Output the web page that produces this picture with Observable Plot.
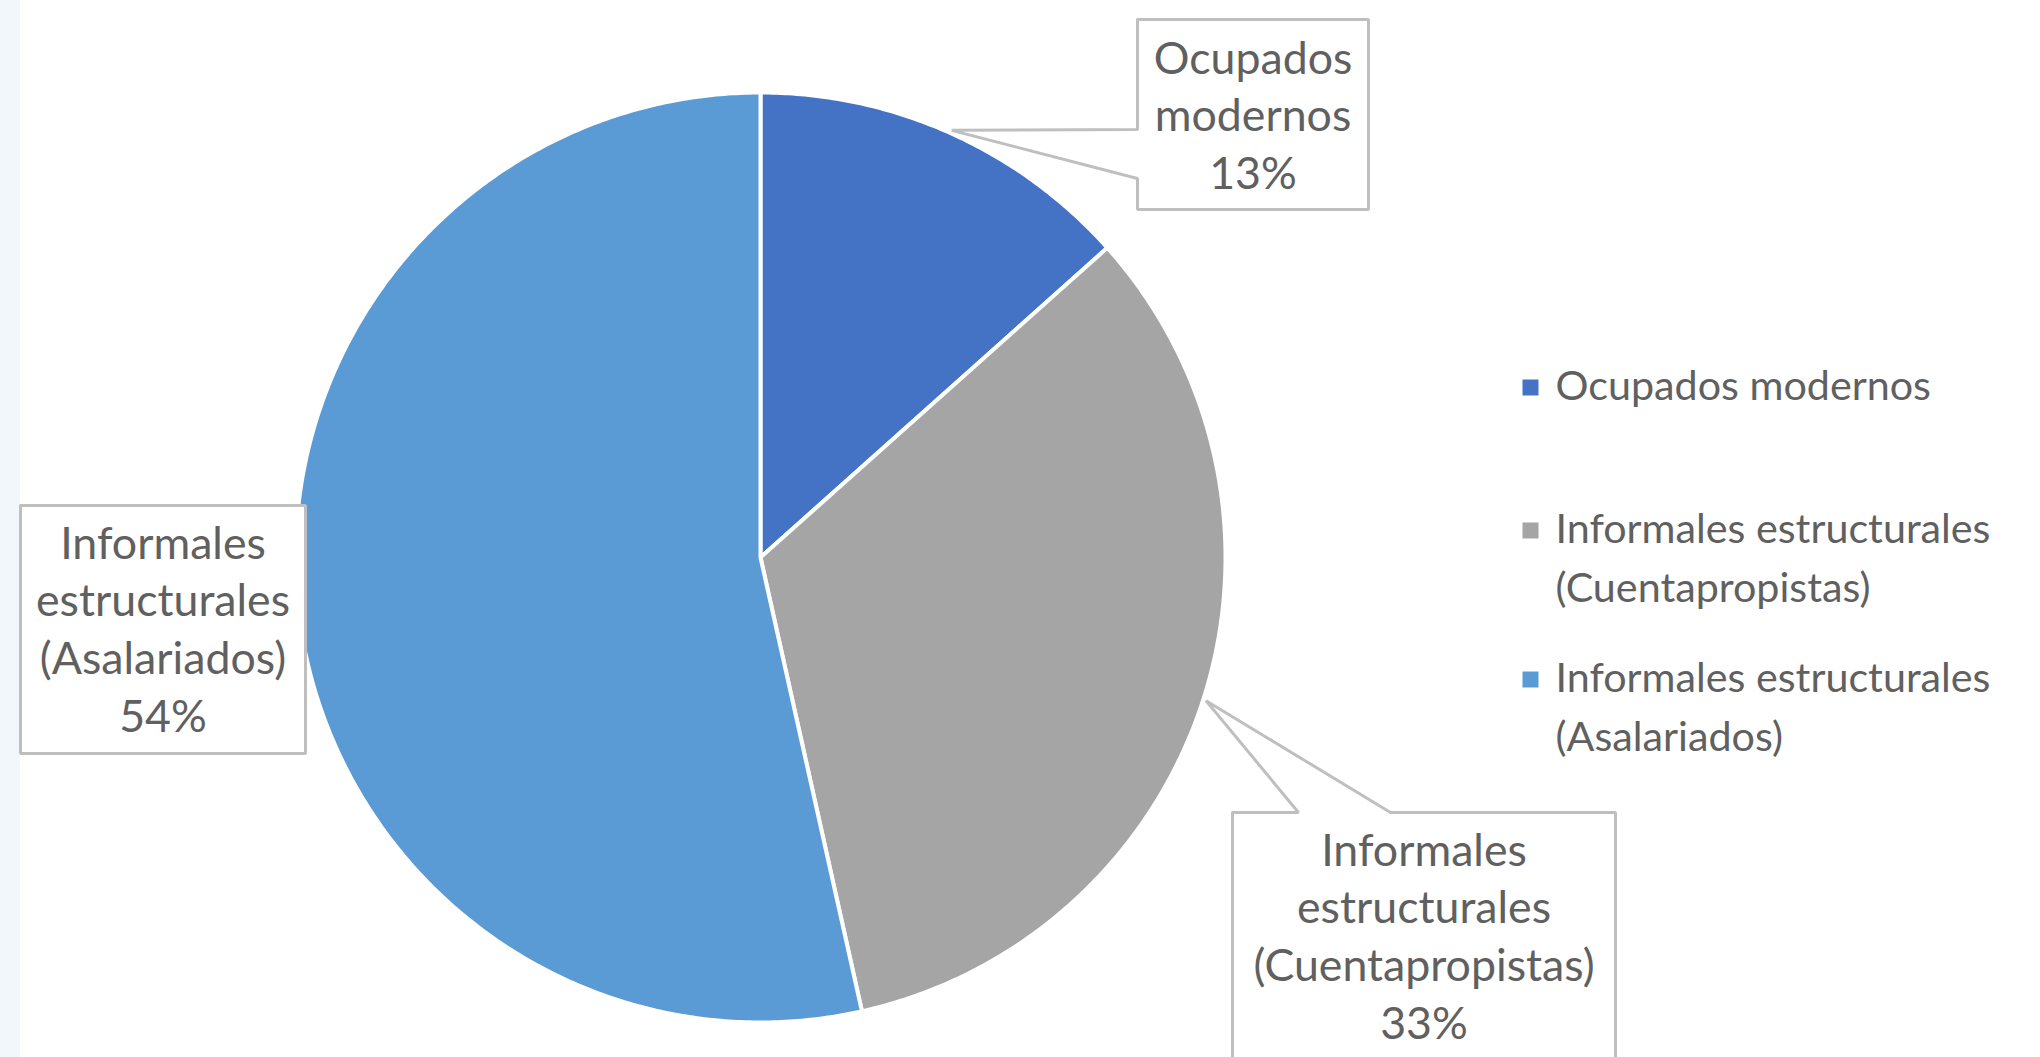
<!DOCTYPE html>
<html>
<head>
<meta charset="utf-8">
<script src="https://cdn.jsdelivr.net/npm/d3@7"></script>
<script src="https://cdn.jsdelivr.net/npm/@observablehq/plot@0.6"></script>
<style>
  html, body { margin: 0; padding: 0; background: #ffffff; }
  #chart { position: relative; width: 2040px; height: 1057px; overflow: hidden; }
  #strip { position: absolute; left: 0; top: 0; width: 20px; height: 1057px; background: #f1f7fa; }
  #chart svg { position: absolute; left: 0; top: 0; }
</style>
</head>
<body>
<div id="chart"><div id="strip"></div></div>
<script>
// ---------------- DATA ----------------
const categories = [
  "Ocupados modernos",
  "Informales estructurales (Cuentapropistas)",
  "Informales estructurales (Asalariados)"
];
const values = [13.4, 33.1, 53.5];
const labelLines = [
  ["Ocupados", "modernos"],
  ["Informales", "estructurales", "(Cuentapropistas)"],
  ["Informales", "estructurales", "(Asalariados)"]
];
const legendLines = [
  ["Ocupados modernos"],
  ["Informales estructurales", "(Cuentapropistas)"],
  ["Informales estructurales", "(Asalariados)"]
];
const colors = ["#4472C4", "#A5A5A5", "#5B9BD5"];

// ---------------- LAYOUT ----------------
const W = 2040, H = 1057;
const pie = {cx: 760, cy: 557, r: 465, sep: 4};
const font = "Lato";
const textColor = "#606060";
const boxStroke = "#BFBFBF";
// callout boxes (per category index)
const boxes = [
  {x1: 1137, y1: 19, x2: 1368, y2: 209, notch: {side: "left", a: 129, b: 178}, baseline: 73},
  {x1: 1232, y1: 812, x2: 1615, y2: 1080, notch: {side: "top", a: 1298, b: 1390}, baseline: 865},
  {x1: 20, y1: 505, x2: 305, y2: 753, notch: null, baseline: 558}
];
const labelLineStep = 57.8;
const legendLayout = {squareX: 1530, textX: 1555, baselines: [400, 543, 692], lineStep: 58.5, square: 16};

// ---------------- HELPERS ----------------
const ctx = document.createElement("canvas").getContext("2d");
function measure(text, size) { ctx.font = `${size}px ${font}`; return ctx.measureText(text).width; }
const labelFs = 44 * 254 / measure("estructurales", 44);
const legendFs = 40 * 435 / measure("Informales estructurales", 40);

const total = d3.sum(values);
const pct = values.map(v => Math.round(v / total * 100) + "%");
const pt = (a, rr) => ({x: pie.cx + rr * Math.sin(a), y: pie.cy - rr * Math.cos(a)});

// pie slice polygons
const piePts = [];
const mids = [];
let cum = 0;
values.forEach((v, i) => {
  const a0 = cum / total * 2 * Math.PI;
  cum += v;
  const a1 = cum / total * 2 * Math.PI;
  mids.push((a0 + a1) / 2);
  const c = categories[i];
  piePts.push({cat: c, x: pie.cx, y: pie.cy});
  const n = Math.max(8, Math.ceil((a1 - a0) / (Math.PI / 360)));
  for (let k = 0; k <= n; ++k) {
    const p = pt(a0 + (a1 - a0) * k / n, pie.r);
    piePts.push({cat: c, ...p});
  }
  piePts.push({cat: c, x: pie.cx, y: pie.cy});
});

// callout outlines
const boxPts = [];
boxes.forEach((b, i) => {
  const tip = pt(mids[i], pie.r + 3);
  let pts;
  if (b.notch && b.notch.side === "left") {
    pts = [[b.x1, b.y1], [b.x2, b.y1], [b.x2, b.y2], [b.x1, b.y2], [b.x1, b.notch.b], [tip.x, tip.y], [b.x1, b.notch.a], [b.x1, b.y1]];
  } else if (b.notch && b.notch.side === "top") {
    pts = [[b.x1, b.y1], [b.notch.a, b.y1], [tip.x, tip.y], [b.notch.b, b.y1], [b.x2, b.y1], [b.x2, b.y2], [b.x1, b.y2], [b.x1, b.y1]];
  } else {
    pts = [[b.x1, b.y1], [b.x2, b.y1], [b.x2, b.y2], [b.x1, b.y2], [b.x1, b.y1]];
  }
  pts.forEach(([x, y]) => boxPts.push({id: i, x, y}));
});

const labelLH = labelLineStep / labelFs;
const labels = boxes.map((b, i) => ({
  x: (b.x1 + b.x2) / 2,
  y: b.baseline - 0.71 * labelLineStep,
  text: [...labelLines[i], pct[i]].join("\n")
}));

const legendLH = legendLayout.lineStep / legendFs;
const legendItems = categories.map((c, i) => ({
  cat: c,
  sx: legendLayout.squareX,
  sy: legendLayout.baselines[i] - 13,
  tx: legendLayout.textX,
  ty: legendLayout.baselines[i] - 0.71 * legendLayout.lineStep,
  text: legendLines[i].join("\n")
}));

const chart = Plot.plot({
  width: W,
  height: H,
  margin: 0,
  x: {domain: [0, W], range: [0, W], axis: null},
  y: {domain: [0, H], range: [0, H], axis: null},
  color: {domain: categories, range: colors},
  style: {background: "transparent", overflow: "visible"},
  marks: [
    Plot.line(piePts, {x: "x", y: "y", z: "cat", fill: "cat", stroke: "white", strokeWidth: pie.sep, strokeLinejoin: "round", curve: "linear"}),
    Plot.line(boxPts, {x: "x", y: "y", z: "id", fill: "white", stroke: boxStroke, strokeWidth: 3, strokeLinejoin: "miter", curve: "linear"}),
    Plot.text(labels, {x: "x", y: "y", text: "text", fontSize: labelFs, lineHeight: labelLH, lineAnchor: "top", textAnchor: "middle", fill: textColor, fontFamily: font}),
    Plot.dot(legendItems, {x: "sx", y: "sy", fill: "cat", symbol: "square", r: legendLayout.square / Math.sqrt(Math.PI), stroke: null}),
    Plot.text(legendItems, {x: "tx", y: "ty", text: "text", fontSize: legendFs, lineHeight: legendLH, lineAnchor: "top", textAnchor: "start", fill: textColor, fontFamily: font})
  ]
});
document.getElementById("chart").appendChild(chart);
</script>
</body>
</html>
